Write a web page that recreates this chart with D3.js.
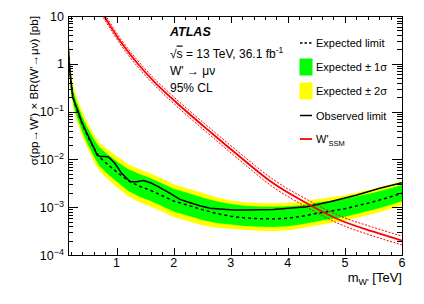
<!DOCTYPE html>
<html>
<head>
<meta charset="utf-8">
<script src="https://cdn.jsdelivr.net/npm/d3@7"></script>
<style>
body { margin: 0; background: #fff; }
text { font-family: "Liberation Sans", Arial, Helvetica, sans-serif; }
</style>
</head>
<body>
<svg width="424" height="304"></svg>
<script>
// expected limit and its bands (pb), band edges as factors on the median
var massExp = [0.15, 0.2, 0.25, 0.3, 0.4, 0.5, 0.6, 0.7, 0.8, 0.9, 1.0, 1.2, 1.4, 1.6, 1.8, 2.0,
  2.25, 2.5, 2.75, 3.0, 3.25, 3.5, 3.75, 4.0, 4.25, 4.5, 4.75, 5.0, 5.25, 5.5, 5.75, 6.0];
var expLimit = [2.5, 0.40, 0.178, 0.112, 0.0537, 0.0295, 0.0174, 0.0112, 0.0087, 0.0069, 0.0055,
  0.00363, 0.00275, 0.00224, 0.00174, 0.00135, 0.0011, 0.00089, 0.00074, 0.000646, 0.000596,
  0.000575, 0.000569, 0.000589, 0.000646, 0.00074, 0.00083, 0.00093, 0.0011, 0.0013, 0.00158, 0.00195];
var up1 = [1.4, 1.4, 1.4, 1.42, 1.45, 1.5, 1.55, 1.6, 1.62, 1.64, 1.66, 1.74, 1.8, 1.8, 1.8, 1.8,
  1.8, 1.8, 1.8, 1.8, 1.8, 1.8, 1.8, 1.78, 1.70, 1.68, 1.65, 1.62, 1.58, 1.55, 1.52, 1.5];
var dn1 = [0.74, 0.74, 0.74, 0.73, 0.71, 0.69, 0.67, 0.65, 0.64, 0.63, 0.63, 0.61, 0.6, 0.6, 0.6, 0.6,
  0.6, 0.61, 0.63, 0.67, 0.68, 0.68, 0.68, 0.68, 0.68, 0.68, 0.68, 0.68, 0.68, 0.68, 0.68, 0.68];
var up2 = [1.78, 1.78, 1.78, 1.8, 1.85, 1.9, 1.95, 2.0, 2.05, 2.1, 2.15, 2.2, 2.25, 2.25, 2.25, 2.25,
  2.25, 2.25, 2.19, 2.14, 2.14, 2.14, 2.12, 2.1, 2.0, 1.98, 1.95, 1.92, 1.88, 1.85, 1.82, 1.8];
var dn2 = [0.6, 0.6, 0.6, 0.59, 0.57, 0.55, 0.53, 0.51, 0.5, 0.49, 0.48, 0.47, 0.46, 0.46, 0.46, 0.46,
  0.46, 0.47, 0.50, 0.55, 0.56, 0.56, 0.56, 0.56, 0.56, 0.56, 0.56, 0.56, 0.56, 0.56, 0.56, 0.56];

// observed limit (pb)
var massObs = [0.15, 0.17, 0.2, 0.23, 0.26, 0.32, 0.38, 0.44, 0.52, 0.62, 0.66, 0.71, 0.8, 0.86, 0.97,
  1.09, 1.24, 1.35, 1.47, 1.59, 1.73, 1.94, 2.11, 2.29, 2.46, 2.64, 2.81, 3.05, 3.28, 3.75, 4.33,
  4.74, 5.21, 5.61, 6.0];
var obsLimit = [3.16, 1.02, 0.457, 0.204, 0.162, 0.107, 0.066, 0.0447, 0.0282, 0.0158, 0.0123, 0.0115,
  0.0115, 0.0112, 0.0083, 0.0051, 0.00342, 0.00342, 0.00363, 0.00326, 0.00269, 0.00195, 0.00146,
  0.00124, 0.00107, 0.00095, 0.00092, 0.00087, 0.00087, 0.0009, 0.00102, 0.0013, 0.0018, 0.00248, 0.00327];

// SSM W' cross section (pb) with theory uncertainty factors
var massTh = [0.7, 0.77, 1.06, 1.376, 1.67, 1.966, 2.67, 3.16, 3.745, 4.33, 4.91, 5.5, 6.0];
var thXsec = [14.1, 10.5, 3.02, 0.99, 0.41, 0.19, 0.0352, 0.01138, 0.00316, 0.00121, 0.00054, 0.000307, 0.0002];
var thUp = [1.15, 1.15, 1.15, 1.16, 1.16, 1.17, 1.18, 1.19, 1.2, 1.21, 1.22, 1.23, 1.24];
var thDn = [0.87, 0.87, 0.87, 0.86, 0.86, 0.85, 0.85, 0.84, 0.83, 0.83, 0.82, 0.81, 0.81];

var xTicks = [1, 2, 3, 4, 5, 6];
var yTicks = [10, 1, 0.1, 0.01, 0.001, 0.0001];
var yTickExp = ["", "", "\u22121", "\u22122", "\u22123", "\u22124"];
var yTickBase = ["10", "1", "10", "10", "10", "10"];

var svg = d3.select("svg");
var L = 68, R = 402, T = 16, B = 255;

var x = d3.scaleLinear().domain([0.15, 6]).range([L, R]);
var y = d3.scaleLog().domain([1e-4, 10]).range([B, T]);

svg.append("clipPath").attr("id", "clip")
  .append("rect").attr("x", L).attr("y", T).attr("width", R - L).attr("height", B - T);
var plot = svg.append("g").attr("clip-path", "url(#clip)");

var expRows = massExp.map(function(m, i) {
  var e = expLimit[i];
  return { m: m, e: e, u1: e * up1[i], d1: e * dn1[i], u2: e * up2[i], d2: e * dn2[i] };
});

plot.append("path").datum(expRows)
  .attr("d", d3.area().x(function(d) { return x(d.m); })
    .y0(function(d) { return y(d.d2); }).y1(function(d) { return y(d.u2); }))
  .attr("fill", "#ffff00");
plot.append("path").datum(expRows)
  .attr("d", d3.area().x(function(d) { return x(d.m); })
    .y0(function(d) { return y(d.d1); }).y1(function(d) { return y(d.u1); }))
  .attr("fill", "#00ff00");

plot.append("path").datum(expRows)
  .attr("d", d3.line().x(function(d) { return x(d.m); }).y(function(d) { return y(d.e); }))
  .attr("fill", "none").attr("stroke", "#000").attr("stroke-width", 1.5)
  .attr("stroke-dasharray", "3,3");

var obsRows = massObs.map(function(m, i) { return { m: m, v: obsLimit[i] }; });
plot.append("path").datum(obsRows)
  .attr("d", d3.line().x(function(d) { return x(d.m); }).y(function(d) { return y(d.v); }))
  .attr("fill", "none").attr("stroke", "#000").attr("stroke-width", 1.5);

// theory curve and its uncertainty
var thRows = massTh.map(function(m, i) {
  return { m: m, v: thXsec[i], u: thXsec[i] * thUp[i], d: thXsec[i] * thDn[i] };
});
var thLine = function(key) {
  return d3.line().curve(d3.curveMonotoneX)
    .x(function(d) { return x(d.m); }).y(function(d) { return y(d[key]); });
};
["u", "d"].forEach(function(k) {
  plot.append("path").datum(thRows).attr("d", thLine(k))
    .attr("fill", "none").attr("stroke", "#ff0000").attr("stroke-width", 1)
    .attr("stroke-dasharray", "2,1.5");
});
plot.append("path").datum(thRows).attr("d", thLine("v"))
  .attr("fill", "none").attr("stroke", "#ff0000").attr("stroke-width", 1.8);

// axes: ROOT style, ticks inside on all four sides
var xMinor = d3.range(0.2, 6.01, 0.2);
var yMinor = [];
[-4, -3, -2, -1, 0].forEach(function(k) {
  d3.range(2, 10).forEach(function(j) { yMinor.push(j * Math.pow(10, k)); });
});

function styleAxis(g) {
  g.select(".domain").remove();
  g.selectAll("line").attr("stroke", "#000").attr("shape-rendering", "crispEdges");
  g.selectAll("text").remove();
}

svg.append("g").attr("transform", "translate(0," + B + ")")
  .call(d3.axisBottom(x).tickValues(xMinor).tickSize(-3.5)).call(styleAxis);
svg.append("g").attr("transform", "translate(0," + B + ")")
  .call(d3.axisBottom(x).tickValues(xTicks).tickSize(-7)).call(styleAxis);
svg.append("g").attr("transform", "translate(0," + T + ")")
  .call(d3.axisTop(x).tickValues(xMinor).tickSize(-3.5)).call(styleAxis);
svg.append("g").attr("transform", "translate(0," + T + ")")
  .call(d3.axisTop(x).tickValues(xTicks).tickSize(-7)).call(styleAxis);

svg.append("g").attr("transform", "translate(" + L + ",0)")
  .call(d3.axisLeft(y).tickValues(yMinor).tickSize(-5)).call(styleAxis);
svg.append("g").attr("transform", "translate(" + L + ",0)")
  .call(d3.axisLeft(y).tickValues(yTicks).tickSize(-10)).call(styleAxis);
svg.append("g").attr("transform", "translate(" + R + ",0)")
  .call(d3.axisRight(y).tickValues(yMinor).tickSize(-5)).call(styleAxis);
svg.append("g").attr("transform", "translate(" + R + ",0)")
  .call(d3.axisRight(y).tickValues(yTicks).tickSize(-10)).call(styleAxis);

svg.append("rect").attr("x", L).attr("y", T).attr("width", R - L).attr("height", B - T)
  .attr("fill", "none").attr("stroke", "#000").attr("shape-rendering", "crispEdges");

// tick labels
svg.selectAll("text.xt").data(xTicks).enter().append("text")
  .attr("class", "xt")
  .attr("x", function(d) { return x(d); }).attr("y", 267)
  .attr("text-anchor", "middle").attr("font-size", 12.5)
  .text(function(d) { return d; });

var yt = svg.selectAll("text.yt").data(yTicks).enter().append("text")
  .attr("class", "yt")
  .attr("x", 64).attr("y", function(d) { return y(d) + 4.5; })
  .attr("text-anchor", "end").attr("font-size", 12.5);
yt.append("tspan").text(function(d, i) { return yTickBase[i]; });
yt.append("tspan").attr("font-size", 9).attr("dy", -5)
  .text(function(d, i) { return yTickExp[i]; });

// axis titles
var xt = svg.append("text").attr("x", R).attr("y", 282)
  .attr("text-anchor", "end").attr("font-size", 13);
xt.append("tspan").text("m");
xt.append("tspan").attr("font-size", 9).attr("dy", 3).text("W'");
xt.append("tspan").attr("dy", -3).text(" [TeV]");

svg.append("text")
  .attr("transform", "translate(38," + T + ") rotate(-90)")
  .attr("text-anchor", "end").attr("font-size", 11.6)
  .text("\u03c3(pp\u2192W') \u00d7 BR(W'\u2192\u03bc\u03bd) [pb]");

// labels top left
svg.append("text").attr("x", 170).attr("y", 36)
  .attr("font-size", 12.5).attr("font-weight", "bold").attr("font-style", "italic")
  .text("ATLAS");
var sq = svg.append("text").attr("x", 170).attr("y", 57.5).attr("font-size", 12);
sq.append("tspan").text("\u221a");
sq.append("tspan").attr("text-decoration", "overline").text("s");
sq.append("tspan").text(" = 13 TeV, 36.1 fb");
sq.append("tspan").attr("font-size", 8.5).attr("dy", -5).text("-1");
svg.append("text").attr("x", 170).attr("y", 74.5).attr("font-size", 12)
  .text("W' \u2192 \u03bc\u03bd");
svg.append("text").attr("x", 170).attr("y", 91.5).attr("font-size", 12)
  .text("95% CL");

// legend
var legY = [43, 67, 91, 115.5, 139];
var lg = svg.append("g");
lg.append("line").attr("x1", 300).attr("x2", 312).attr("y1", legY[0]).attr("y2", legY[0])
  .attr("stroke", "#000").attr("stroke-width", 1.5).attr("stroke-dasharray", "2.5,2");
lg.append("rect").attr("x", 299.5).attr("y", legY[1] - 8.5).attr("width", 13).attr("height", 17)
  .attr("fill", "#00ff00");
lg.append("rect").attr("x", 299.5).attr("y", legY[2] - 8.5).attr("width", 13).attr("height", 17)
  .attr("fill", "#ffff00");
lg.append("line").attr("x1", 300).attr("x2", 312).attr("y1", legY[3]).attr("y2", legY[3])
  .attr("stroke", "#000").attr("stroke-width", 1.5);
lg.append("line").attr("x1", 300).attr("x2", 312).attr("y1", legY[4]).attr("y2", legY[4])
  .attr("stroke", "#ff0000").attr("stroke-width", 1.8);

var legText = ["Expected limit", "Expected \u00b1 1\u03c3", "Expected \u00b1 2\u03c3", "Observed limit"];
legText.forEach(function(t, i) {
  lg.append("text").attr("x", 316).attr("y", legY[i] + 4).attr("font-size", 11).text(t);
});
var ssm = lg.append("text").attr("x", 316).attr("y", legY[4] + 4).attr("font-size", 11);
ssm.append("tspan").text("W'");
ssm.append("tspan").attr("font-size", 7.5).attr("dy", 3).text("SSM");
</script>
</body>
</html>
